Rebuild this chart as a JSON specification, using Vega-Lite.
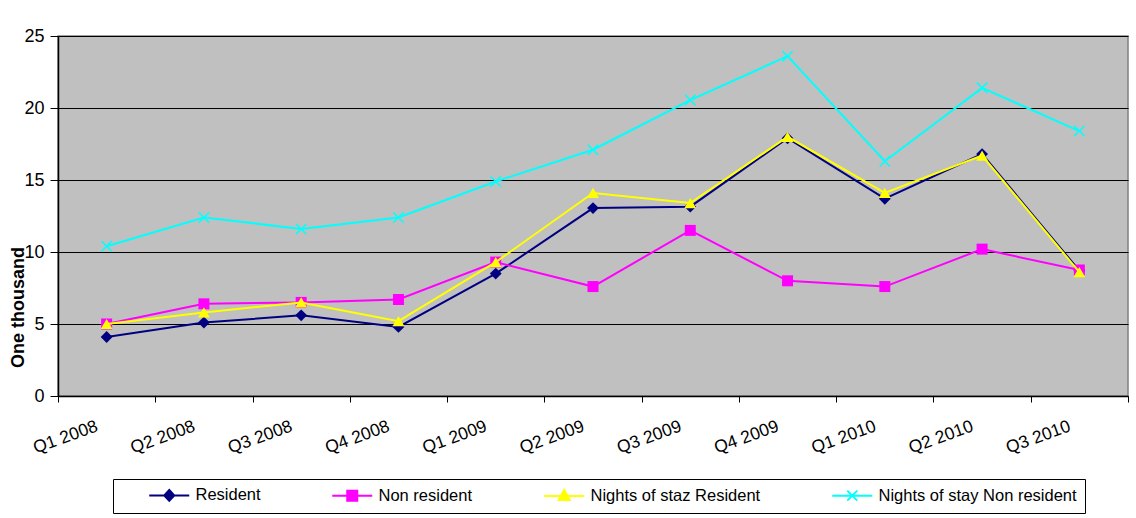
{
  "$schema": "https://vega.github.io/schema/vega-lite/v6.json",
  "autosize": "none",
  "width": 1070,
  "height": 360,
  "padding": {"left": 58, "top": 36, "right": 8, "bottom": 122},
  "background": "white",
  "config": {
    "font": "Liberation Sans",
    "view": {"fill": "#C0C0C0", "stroke": "#808080", "strokeWidth": 1.5}
  },
  "data": {
    "values": [
      {"q": "Q1 2008", "s": "Resident", "v": 4.1},
      {"q": "Q2 2008", "s": "Resident", "v": 5.1},
      {"q": "Q3 2008", "s": "Resident", "v": 5.6},
      {"q": "Q4 2008", "s": "Resident", "v": 4.8},
      {"q": "Q1 2009", "s": "Resident", "v": 8.5},
      {"q": "Q2 2009", "s": "Resident", "v": 13.05},
      {"q": "Q3 2009", "s": "Resident", "v": 13.15},
      {"q": "Q4 2009", "s": "Resident", "v": 17.9},
      {"q": "Q1 2010", "s": "Resident", "v": 13.7},
      {"q": "Q2 2010", "s": "Resident", "v": 16.8},
      {"q": "Q3 2010", "s": "Resident", "v": 8.7},
      {"q": "Q1 2008", "s": "Non resident", "v": 5.0},
      {"q": "Q2 2008", "s": "Non resident", "v": 6.4},
      {"q": "Q3 2008", "s": "Non resident", "v": 6.5},
      {"q": "Q4 2008", "s": "Non resident", "v": 6.7},
      {"q": "Q1 2009", "s": "Non resident", "v": 9.3},
      {"q": "Q2 2009", "s": "Non resident", "v": 7.6},
      {"q": "Q3 2009", "s": "Non resident", "v": 11.5},
      {"q": "Q4 2009", "s": "Non resident", "v": 8.0},
      {"q": "Q1 2010", "s": "Non resident", "v": 7.6},
      {"q": "Q2 2010", "s": "Non resident", "v": 10.2},
      {"q": "Q3 2010", "s": "Non resident", "v": 8.75},
      {"q": "Q1 2008", "s": "Nights of staz Resident", "v": 5.0},
      {"q": "Q2 2008", "s": "Nights of staz Resident", "v": 5.8},
      {"q": "Q3 2008", "s": "Nights of staz Resident", "v": 6.5},
      {"q": "Q4 2008", "s": "Nights of staz Resident", "v": 5.2},
      {"q": "Q1 2009", "s": "Nights of staz Resident", "v": 9.3},
      {"q": "Q2 2009", "s": "Nights of staz Resident", "v": 14.1},
      {"q": "Q3 2009", "s": "Nights of staz Resident", "v": 13.4},
      {"q": "Q4 2009", "s": "Nights of staz Resident", "v": 18.0},
      {"q": "Q1 2010", "s": "Nights of staz Resident", "v": 14.1},
      {"q": "Q2 2010", "s": "Nights of staz Resident", "v": 16.7},
      {"q": "Q3 2010", "s": "Nights of staz Resident", "v": 8.6},
      {"q": "Q1 2008", "s": "Nights of stay Non resident", "v": 10.4},
      {"q": "Q2 2008", "s": "Nights of stay Non resident", "v": 12.4},
      {"q": "Q3 2008", "s": "Nights of stay Non resident", "v": 11.6},
      {"q": "Q4 2008", "s": "Nights of stay Non resident", "v": 12.4},
      {"q": "Q1 2009", "s": "Nights of stay Non resident", "v": 14.9},
      {"q": "Q2 2009", "s": "Nights of stay Non resident", "v": 17.1},
      {"q": "Q3 2009", "s": "Nights of stay Non resident", "v": 20.55},
      {"q": "Q4 2009", "s": "Nights of stay Non resident", "v": 23.6},
      {"q": "Q1 2010", "s": "Nights of stay Non resident", "v": 16.3},
      {"q": "Q2 2010", "s": "Nights of stay Non resident", "v": 21.4},
      {"q": "Q3 2010", "s": "Nights of stay Non resident", "v": 18.4}
    ]
  },
  "encoding": {
    "x": {
      "field": "q", "type": "ordinal", "sort": null,
      "scale": {"type": "band", "paddingInner": 0, "paddingOuter": 0},
      "axis": {
        "title": null, "labelAngle": -20, "labelAlign": "right", "labelBaseline": "top",
        "labelFontSize": 17.5, "labelColor": "black", "labelPadding": 15,
        "labelOffset": -13,
        "tickBand": "extent", "tickColor": "black", "tickSize": 6,
        "domainColor": "black", "domainWidth": 1.5, "grid": false
      }
    },
    "y": {
      "field": "v", "type": "quantitative",
      "scale": {"domain": [0, 25], "nice": false, "zero": true},
      "axis": {
        "title": "One thousand", "titleFontSize": 18, "titleFontWeight": "bold", "titleColor": "black",
        "titleAngle": 270, "titleX": -31, "titleY": 271, "titleAlign": "center", "titleBaseline": "bottom",
        "values": [0, 5, 10, 15, 20, 25], "labelFontSize": 18, "labelColor": "black", "labelPadding": 6,
        "tickColor": "black", "tickSize": 8, "domainColor": "black", "domainWidth": 1.5,
        "grid": true, "gridColor": "black", "gridWidth": 1
      }
    }
  },
  "layer": [
    {
      "transform": [{"filter": "false"}],
      "mark": {"type": "point", "filled": true, "opacity": 1, "strokeWidth": 2},
      "encoding": {
        "color": {
          "field": "s", "type": "nominal",
          "scale": {
            "domain": ["Resident", "Non resident", "Nights of staz Resident", "Nights of stay Non resident"],
            "range": ["#000080", "#FF00FF", "#FFFF00", "#00FFFF"]
          },
          "legend": {
            "title": null, "orient": "none", "legendX": 55, "legendY": 443, "direction": "horizontal",
            "fillColor": "white", "strokeColor": "black", "padding": 8,
            "labelFontSize": 16.5, "labelColor": "black", "labelLimit": 400,
            "symbolSize": 100, "symbolOffset": 40, "labelOffset": 18, "columnPadding": 43,
            "symbolStrokeWidth": 2
          }
        },
        "stroke": {
          "field": "s", "type": "nominal",
          "scale": {
            "domain": ["Resident", "Non resident", "Nights of staz Resident", "Nights of stay Non resident"],
            "range": ["#000080", "#FF00FF", "#FFFF00", "#00FFFF"]
          },
          "legend": {
            "title": null, "orient": "none", "legendX": 55, "legendY": 443, "direction": "horizontal",
            "fillColor": "white", "strokeColor": "black", "padding": 8,
            "labelFontSize": 16.5, "labelColor": "black", "labelLimit": 400,
            "symbolSize": 100, "symbolOffset": 40, "labelOffset": 18, "columnPadding": 43,
            "symbolStrokeWidth": 2
          }
        },
        "shape": {
          "field": "s", "type": "nominal",
          "scale": {
            "domain": ["Resident", "Non resident", "Nights of staz Resident", "Nights of stay Non resident"],
            "range": [
              "M-4,0L4,0M0,-1.1L1,0L0,1.1L-1,0Z",
              "M-4,0L4,0M-1,-1L1,-1L1,1L-1,1Z",
              "M-4,0L4,0M0,-1.2L1.1,0.8L-1.1,0.8Z",
              "M-4,0L4,0M-1,-1L1,1M-1,1L1,-1"
            ]
          },
          "legend": {
            "title": null, "orient": "none", "legendX": 55, "legendY": 443, "direction": "horizontal",
            "fillColor": "white", "strokeColor": "black", "padding": 8,
            "labelFontSize": 16.5, "labelColor": "black", "labelLimit": 400,
            "symbolSize": 100, "symbolOffset": 40, "labelOffset": 18, "columnPadding": 43,
            "symbolStrokeWidth": 2
          }
        }
      }
    },
    {
      "transform": [{"filter": "datum.s === 'Resident'"}],
      "mark": {"type": "line", "strokeWidth": 2, "color": "#000080"},
      "encoding": {}
    },
    {
      "transform": [{"filter": "datum.s === 'Resident'"}],
      "mark": {"type": "point", "shape": "diamond", "filled": true, "size": 140, "color": "#000080", "opacity": 1},
      "encoding": {}
    },
    {
      "transform": [{"filter": "datum.s === 'Non resident'"}],
      "mark": {"type": "line", "strokeWidth": 2, "color": "#FF00FF"},
      "encoding": {}
    },
    {
      "transform": [{"filter": "datum.s === 'Non resident'"}],
      "mark": {"type": "point", "shape": "square", "filled": true, "size": 121, "color": "#FF00FF", "opacity": 1},
      "encoding": {}
    },
    {
      "transform": [{"filter": "datum.s === 'Nights of staz Resident'"}],
      "mark": {"type": "line", "strokeWidth": 2, "color": "#FFFF00"},
      "encoding": {}
    },
    {
      "transform": [{"filter": "datum.s === 'Nights of staz Resident'"}],
      "mark": {"type": "point", "shape": "triangle-up", "filled": true, "size": 140, "color": "#FFFF00", "opacity": 1},
      "encoding": {}
    },
    {
      "transform": [{"filter": "datum.s === 'Nights of stay Non resident'"}],
      "mark": {"type": "line", "strokeWidth": 2, "color": "#00FFFF"},
      "encoding": {}
    },
    {
      "transform": [{"filter": "datum.s === 'Nights of stay Non resident'"}],
      "mark": {"type": "point", "shape": "M-1,-1L1,1M-1,1L1,-1", "filled": false, "size": 110, "color": "#00FFFF", "strokeWidth": 1.5, "opacity": 1},
      "encoding": {}
    }
  ]
}
